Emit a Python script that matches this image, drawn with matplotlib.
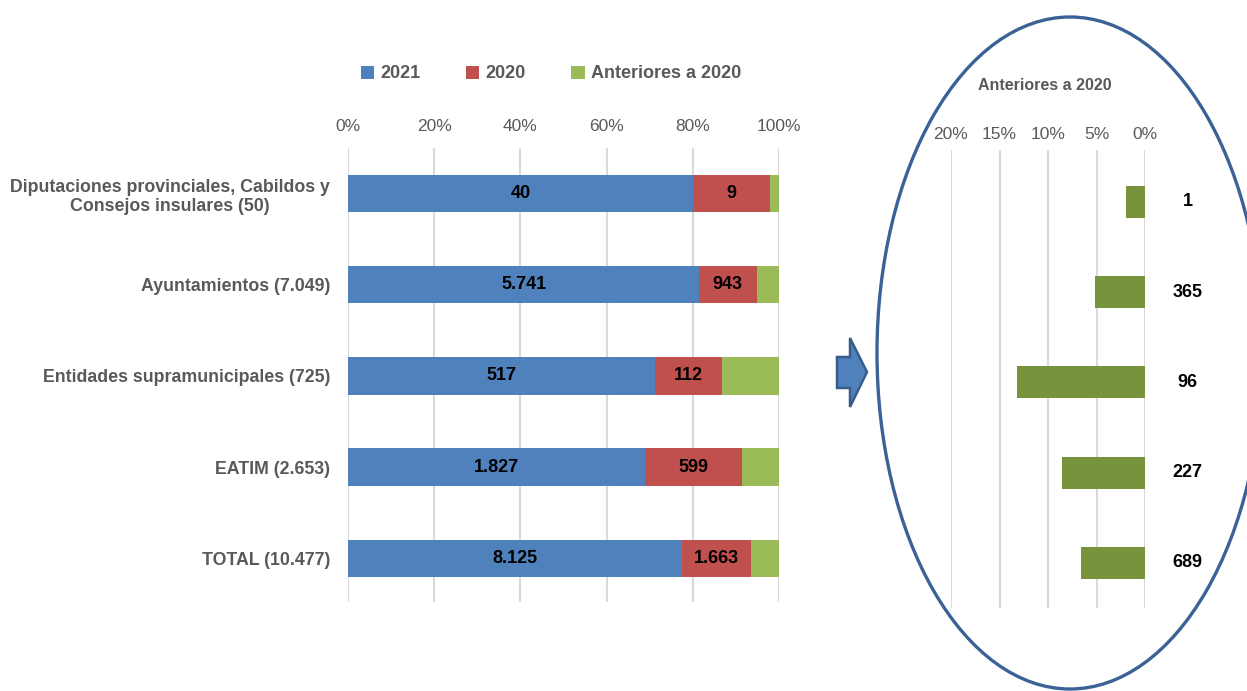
import matplotlib
matplotlib.use("Agg")
import matplotlib.pyplot as plt
from matplotlib.patches import Ellipse, Polygon
import numpy as np

categories = ["Diputaciones provinciales, Cabildos y\nConsejos insulares (50)",
              "Ayuntamientos (7.049)",
              "Entidades supramunicipales (725)",
              "EATIM (2.653)",
              "TOTAL (10.477)"]
v2021 = [40, 5741, 517, 1827, 8125]
v2020 = [9, 943, 112, 599, 1663]
vant = [1, 365, 96, 227, 689]
lab2021 = ["40", "5.741", "517", "1.827", "8.125"]
lab2020 = ["9", "943", "112", "599", "1.663"]
labant = ["1", "365", "96", "227", "689"]
series_names = ["2021", "2020", "Anteriores a 2020"]
left_ticks = [0, 20, 40, 60, 80, 100]
right_ticks = [20, 15, 10, 5, 0]

C2021 = "#4F81BD"
C2020 = "#C0504D"
CANT = "#9BBB59"
CANT_R = "#77933C"
GRID = "#D9D9D9"
GRAY = "#595959"
FONT = ["Liberation Sans Narrow", "Liberation Sans", "DejaVu Sans"]
plt.rcParams["font.family"] = FONT

W, H = 1247, 691
fig = plt.figure(figsize=(W / 100, H / 100), dpi=100)

def frac(x0, y0, x1, y1):
    return [x0 / W, 1 - y1 / H, (x1 - x0) / W, (y1 - y0) / H]

a = np.array(v2021, float)
b = np.array(v2020, float)
c = np.array(vant, float)
tot = a + b + c
pa, pb, pc = a / tot * 100, b / tot * 100, c / tot * 100
y = np.arange(len(categories))

# Left chart
ax = fig.add_axes(frac(348, 148, 779, 602))
h1 = ax.barh(y, pa, height=0.41, color=C2021, zorder=3)
h2 = ax.barh(y, pb, left=pa, height=0.41, color=C2020, zorder=3)
h3 = ax.barh(y, pc, left=pa + pb, height=0.41, color=CANT, zorder=3)
for i in range(len(y)):
    ax.text(pa[i] / 2, y[i], lab2021[i], ha="center", va="center",
            fontsize=13, fontweight="bold", color="black", zorder=4)
    ax.text(pa[i] + pb[i] / 2, y[i], lab2020[i], ha="center", va="center",
            fontsize=13, fontweight="bold", color="black", zorder=4)
ax.set_xlim(0, 100)
ax.set_ylim(4.48, -0.5)
ax.set_xticks(left_ticks)
ax.set_xticklabels([f"{t}%" for t in left_ticks], color=GRAY, fontsize=12.5)
ax.xaxis.tick_top()
ax.tick_params(axis="x", length=0, pad=10)
ax.set_yticks(y)
ax.set_yticklabels(categories, color=GRAY, fontsize=12.8, fontweight="bold",
                   multialignment="center")
ax.tick_params(axis="y", length=0, pad=13)
ax.grid(axis="x", color=GRID, linewidth=1.5, zorder=0)
for s in ax.spines.values():
    s.set_visible(False)

fig.legend([h1, h2, h3], series_names, loc="center",
           bbox_to_anchor=(551 / W, 1 - 74 / H), ncol=3, frameon=False,
           handlelength=0.75, handleheight=0.75, handletextpad=0.35,
           columnspacing=2.5, prop={"family": FONT, "weight": "bold", "size": 13},
           labelcolor=GRAY)

# Right chart
ax2 = fig.add_axes(frac(951, 150, 1145, 608))
ax2.barh(y, pc, height=0.355, color=CANT_R, zorder=3)
for i in range(len(y)):
    ax2.text(-4.4, y[i], labant[i], ha="center", va="center",
             fontsize=13, fontweight="bold", color="black", clip_on=False)
ax2.set_xlim(20, 0)
ax2.set_ylim(4.5, -0.576)
ax2.set_xticks(right_ticks)
ax2.set_xticklabels([f"{t}%" for t in right_ticks], color=GRAY, fontsize=12.5)
ax2.xaxis.tick_top()
ax2.tick_params(axis="x", length=0, pad=6)
ax2.set_yticks([])
ax2.grid(axis="x", color=GRID, linewidth=1.5, zorder=0)
for s in ax2.spines.values():
    s.set_visible(False)
fig.text(1045 / W, 1 - 86 / H, "Anteriores a 2020", ha="center", va="center",
         fontsize=11.5, fontweight="bold", color=GRAY)

# Ellipse
ell = Ellipse((1070 / W, 1 - 353 / H), 386 / W, 672 / H, transform=fig.transFigure,
              fill=False, edgecolor="#3B6296", linewidth=2.4)
fig.patches.append(ell)

# Arrow
pts = [(837, 357), (850, 357), (850, 338), (867, 372), (850, 407), (850, 388), (837, 388)]
arrow = Polygon([(px / W, 1 - py / H) for px, py in pts], closed=True,
                transform=fig.transFigure, facecolor=C2021, edgecolor="#385D8A",
                linewidth=1.8)
fig.patches.append(arrow)

fig.savefig("out.png", dpi=100)
